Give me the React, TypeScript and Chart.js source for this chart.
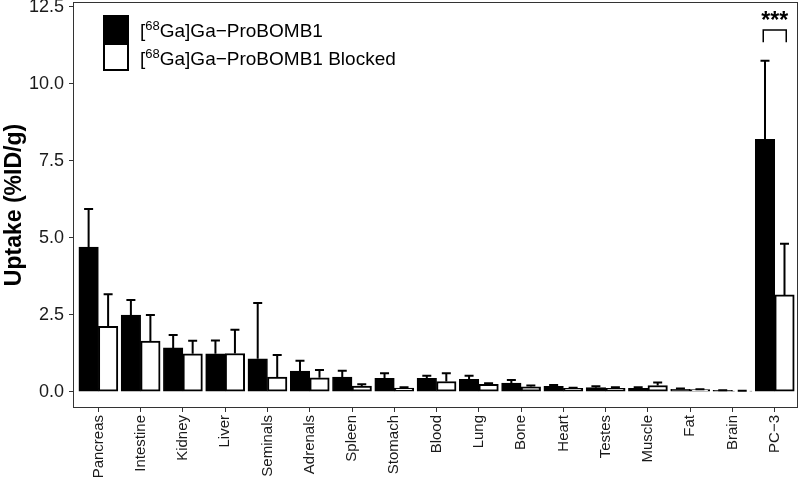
import React, { useEffect, useRef } from "react";
import { Chart, registerables } from "chart.js";

Chart.register(...registerables);

const categories = [
  "Pancreas", "Intestine", "Kidney", "Liver", "Seminals", "Adrenals", "Spleen", "Stomach",
  "Blood", "Lung", "Bone", "Heart", "Testes", "Muscle", "Fat", "Brain", "PC\u22123",
];
const uptake = [4.69, 2.49, 1.42, 1.23, 1.07, 0.67, 0.47, 0.43, 0.43, 0.4, 0.28, 0.17, 0.13, 0.11, 0.08, 0.04, 8.19];
const uptakeSD = [1.24, 0.49, 0.42, 0.43, 1.81, 0.33, 0.21, 0.17, 0.09, 0.12, 0.1, 0.05, 0.05, 0.03, 0.02, 0.01, 2.55];
const blocked = [2.12, 1.64, 1.23, 1.24, 0.47, 0.45, 0.18, 0.12, 0.33, 0.24, 0.16, 0.11, 0.11, 0.2, 0.07, 0.02, 3.14];
const blockedSD = [1.04, 0.85, 0.42, 0.77, 0.72, 0.25, 0.06, 0.02, 0.27, 0.03, 0.04, 0.02, 0.03, 0.1, 0.01, 0.01, 1.66];
const yTicks = [0, 2.5, 5, 7.5, 10, 12.5];
const seriesNames = ["Ga-ProBOMB1", "Ga-ProBOMB1 Blocked"];
const isotope = "68";
const significance = "***";

const FONT = "'Liberation Sans', Arial, Helvetica, sans-serif";

export default function App() {
  const ref = useRef<HTMLCanvasElement | null>(null);

  useEffect(() => {
    document.body.style.margin = "0";
    const canvas = ref.current;
    if (!canvas) return;

    const sds = [uptakeSD, blockedSD];

    const framePlugin = {
      id: "frame",
      afterDatasetsDraw(chart: any) {
        const { ctx, chartArea, scales } = chart;
        const y = scales.y;
        const x = scales.x;
        ctx.save();
        // error bars
        ctx.strokeStyle = "#000";
        ctx.lineWidth = 2;
        chart.data.datasets.forEach((ds: any, di: number) => {
          const meta = chart.getDatasetMeta(di);
          meta.data.forEach((el: any, i: number) => {
            const v = ds.data[i].y;
            const top = y.getPixelForValue(v + sds[di][i]);
            const bx = el.x;
            ctx.beginPath();
            ctx.moveTo(bx, el.y);
            ctx.lineTo(bx, top);
            ctx.moveTo(bx - 4.5, top);
            ctx.lineTo(bx + 4.5, top);
            ctx.stroke();
          });
        });
        // frame
        ctx.strokeStyle = "#333";
        ctx.lineWidth = 1;
        ctx.strokeRect(chartArea.left + 0.5, chartArea.top + 0.5, chartArea.right - chartArea.left - 1, chartArea.bottom - chartArea.top - 1);

        // significance bracket
        const cx = x.getPixelForValue(categories.length - 1);
        const bl = cx - 11.5;
        const br = cx + 11.5;
        const yt = y.getPixelForValue(11.74);
        const yb = y.getPixelForValue(11.34);
        ctx.strokeStyle = "#000";
        ctx.lineWidth = 1.5;
        ctx.beginPath();
        ctx.moveTo(bl, yb);
        ctx.lineTo(bl, yt);
        ctx.lineTo(br, yt);
        ctx.lineTo(br, yb);
        ctx.stroke();
        ctx.fillStyle = "#000";
        ctx.font = `bold 23px ${FONT}`;
        ctx.textAlign = "center";
        ctx.textBaseline = "alphabetic";
        ctx.fillText(significance, cx, yt - 2);

        // legend
        const lx = 103;
        const kw = 26;
        const kh = 28;
        const ly0 = 15;
        ctx.fillStyle = "#000";
        ctx.fillRect(lx, ly0, kw, kh);
        ctx.fillStyle = "#fff";
        ctx.fillRect(lx, ly0 + kh, kw, kh);
        ctx.strokeStyle = "#000";
        ctx.lineWidth = 2;
        ctx.strokeRect(lx + 1, ly0 + kh + 1, kw - 2, kh - 2);
        ctx.fillStyle = "#000";
        ctx.textAlign = "left";
        const baselines = [36.5, 65];
        seriesNames.forEach((name, i) => {
          let tx = 140;
          const by = baselines[i];
          ctx.font = `19px ${FONT}`;
          ctx.fillText("[", tx, by);
          tx += ctx.measureText("[").width;
          ctx.font = `13px ${FONT}`;
          ctx.fillText(isotope, tx, by - 7);
          tx += ctx.measureText(isotope).width;
          ctx.font = `19px ${FONT}`;
          const rest = "Ga]" + name.replace("-", "\u2212");
          ctx.fillText(rest, tx, by);
        });
        ctx.restore();
      },
    };

    const chart = new Chart(canvas, {
      type: "bar",
      data: {
        datasets: [
          {
            label: seriesNames[0],
            data: uptake.map((v, i) => ({ x: i, y: v })),
            backgroundColor: "#000",
            borderColor: "#000",
            borderWidth: 1,
            borderSkipped: false,
            barThickness: 19.5,
          },
          {
            label: seriesNames[1],
            data: blocked.map((v, i) => ({ x: i, y: v })),
            backgroundColor: "#fff",
            borderColor: "#000",
            borderWidth: 2,
            borderSkipped: false,
            barThickness: 19.5,
          },
        ],
      } as any,
      options: {
        animation: false,
        responsive: false,
        maintainAspectRatio: false,
        layout: { padding: { top: 2, right: 2, left: 0, bottom: 0 } },
        plugins: { legend: { display: false }, tooltip: { enabled: false } },
        scales: {
          x: {
            type: "linear",
            min: -0.6,
            max: 16.55,
            offset: false,
            afterBuildTicks: (scale: any) => {
              scale.ticks = categories.map((_, i) => ({ value: i }));
            },
            afterFit: (scale: any) => {
              scale.height = 80;
              scale.paddingLeft = 0;
              scale.paddingRight = 0;
            },
            ticks: {
              autoSkip: false,
              maxRotation: 90,
              minRotation: 90,
              padding: 3,
              color: "#1a1a1a",
              font: { family: FONT, size: 15 },
              callback: (_v: any, i: number) => categories[i],
            },
            grid: { offset: false, drawOnChartArea: false, drawTicks: true, tickLength: 4, color: "#333" },
            border: { display: false },
          },
          y: {
            type: "linear",
            min: -0.53,
            max: 12.65,
            afterBuildTicks: (scale: any) => {
              scale.ticks = yTicks.map((v) => ({ value: v }));
            },
            afterFit: (scale: any) => {
              scale.width = 73;
              scale.paddingTop = 0;
              scale.paddingBottom = 0;
            },
            ticks: {
              padding: 5,
              color: "#1a1a1a",
              font: { family: FONT, size: 18 },
              callback: (v: any) => Number(v).toFixed(1),
            },
            grid: { drawOnChartArea: false, drawTicks: true, tickLength: 4, color: "#333" },
            border: { display: false },
            title: {
              display: true,
              text: "Uptake (%ID/g)",
              color: "#000",
              font: { family: FONT, size: 23, weight: "bold" },
              padding: { top: 1, bottom: 0 },
            },
          },
        },
      } as any,
      plugins: [framePlugin],
    });

    return () => chart.destroy();
  }, []);

  return (
    <div style={{ width: 800, height: 488 }}>
      <canvas ref={ref} width={800} height={488} style={{ display: "block" }} />
    </div>
  );
}
